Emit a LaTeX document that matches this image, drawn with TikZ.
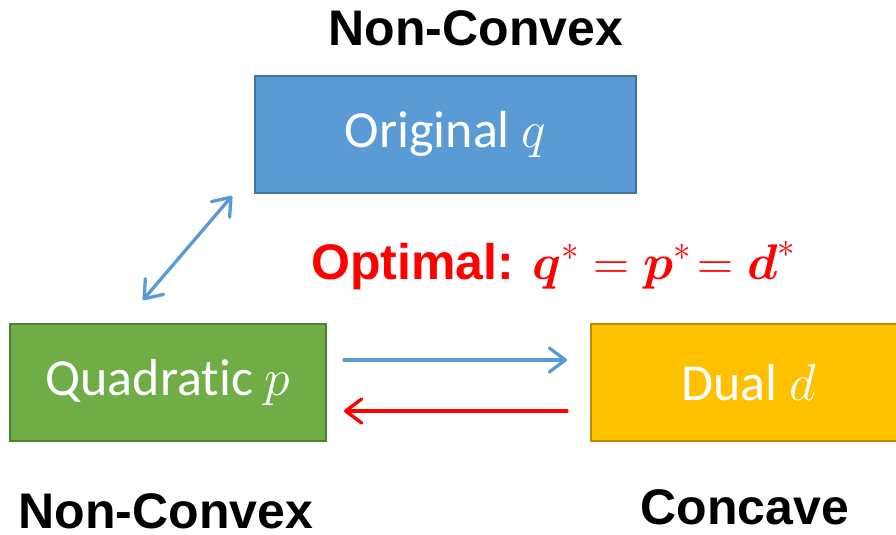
\documentclass[tikz,border=0pt]{standalone}
\usepackage{fix-cm}
\usepackage{fontspec}
\usepackage{amsmath}
\setmainfont[Ligatures=NoCommon]{Carlito}
\newfontfamily\headfont{Liberation Sans}
\usetikzlibrary{arrows.meta}
\definecolor{origblue}{HTML}{5B9BD5}
\definecolor{origline}{HTML}{41719C}
\definecolor{quadgreen}{HTML}{70AD47}
\definecolor{quadline}{HTML}{507E32}
\definecolor{dualgold}{HTML}{FFC000}
\definecolor{dualline}{HTML}{BC8C00}
\definecolor{optred}{HTML}{FF0000}
\tikzset{
  >={Straight Barb[length=12pt,width=18pt,line join=round,line cap=round]},
  box/.style={draw, line width=1.5pt, minimum height=87.75pt, text=white,
    font=\fontsize{39}{47}\selectfont, inner sep=0pt},
  head/.style={font=\headfont\bfseries\fontsize{37.5}{45}\selectfont, inner sep=0pt,
    text depth=0pt, anchor=base},
  link/.style={line width=2.5pt, line cap=round},
}
\begin{document}
\begin{tikzpicture}[x=0.75pt,y=0.75pt]
\useasboundingbox (0,0) rectangle (896,-535);
% boxes
\node [box, fill=origblue, draw=origline, minimum width=285.75pt] (orig) at (445.5,-134.5) {Original $q$};
\node [box, fill=quadgreen, draw=quadline, minimum width=237pt] (quad) at (168,-382.5) {Quadratic $p$};
\node [box, fill=dualgold, draw=dualline, minimum width=236.25pt] (dual) at (748.5,-382.5) {Dual $d$};
% labels
\node [head] (topnc) at (476,-46) {Non-Convex};
\node [head] (leftnc) at (166,-528) {Non-Convex};
\node [head] (conc) at (745,-524) {Concave};
\node [head, text=optred, anchor=base west] (opt) at (311,-279)
  {Optimal: $\boldsymbol{q}^{*}=\boldsymbol{p}^{*}\!=\boldsymbol{d}^{*}$};
% arrows
\coordinate (qa) at (143,-300);
\coordinate (oa) at (232,-196);
\coordinate (fwdA) at (344,-360);
\coordinate (fwdB) at (567,-360);
\coordinate (backA) at (567,-411);
\coordinate (backB) at (344,-411);
\draw [link, origblue, <->] (qa) -- (oa);
\draw [link, origblue, ->] (fwdA) -- (fwdB);
\draw [link, optred, ->] (backA) -- (backB);
\end{tikzpicture}
\end{document}
